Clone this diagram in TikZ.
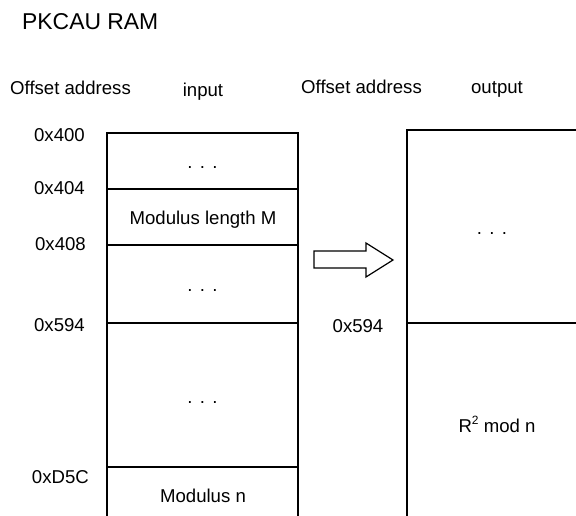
\documentclass[tikz,border=0pt]{standalone}
\usepackage{fontspec}
\setmainfont{Liberation Sans}
\begin{document}
\begin{tikzpicture}[x=1pt,y=-1pt,
  lbl/.style={inner sep=0pt,anchor=base,font=\fontsize{18.6}{22}\selectfont},
  lblw/.style={lbl,anchor=base west},
  addr/.style={lbl,anchor=base east},
  memline/.style={line width=1.6pt},
  blockarrow/.style={line width=1.2pt,line join=miter}]
\useasboundingbox (0,0) rectangle (576,516);
\fill[white] (0,0) rectangle (576,516);
% titles
\node[lblw,font=\fontsize{22.9}{27}\selectfont] (title) at (22,30) {PKCAU RAM};
\node[lblw] (offL) at (10,95) {Offset address};
\node[lbl] (inp) at (203,97) {input};
\node[lblw] (offR) at (301,94) {Offset address};
\node[lbl] (outp) at (497,94) {output};
% coordinates for left memory
\coordinate (LTL) at (107,133);
\coordinate (LTR) at (298,133);
\coordinate (LBL) at (107,516);
\coordinate (LBR) at (298,516);
\coordinate (l1a) at (107,189); \coordinate (l1b) at (298,189);
\coordinate (l2a) at (107,245); \coordinate (l2b) at (298,245);
\coordinate (l3a) at (107,323); \coordinate (l3b) at (298,323);
\coordinate (l4a) at (107,467); \coordinate (l4b) at (298,467);
\draw[memline] (LBL) -- (LTL) -- (LTR) -- (LBR);
\draw[memline] (l1a) -- (l1b);
\draw[memline] (l2a) -- (l2b);
\draw[memline] (l3a) -- (l3b);
\draw[memline] (l4a) -- (l4b);
% right memory
\coordinate (RBL) at (407,516);
\coordinate (RTL) at (407,130);
\coordinate (RTR) at (580,130);
\coordinate (r1a) at (407,323); \coordinate (r1b) at (580,323);
\draw[memline] (RBL) -- (RTL) -- (RTR);
\draw[memline] (r1a) -- (r1b);
% addresses
\node[addr] (a400) at (85,142) {0x400};
\node[addr] (a404) at (85,194.5) {0x404};
\node[addr] (a408) at (86,251) {0x408};
\node[addr] (a594) at (85,331) {0x594};
\node[addr] (ad5c) at (89,483) {0xD5C};
\node[lbl] (a594r) at (358,332) {0x594};
% contents
\newcommand{\mydots}{.\hspace{7.3pt}.\hspace{7.3pt}.}
\node[lbl] (d1) at (202.5,168) {\mydots};
\node[lbl] (modM) at (203,224) {Modulus length M};
\node[lbl] (d2) at (202.5,291) {\mydots};
\node[lbl] (d3) at (202.5,403) {\mydots};
\node[lbl] (modn) at (203,502) {Modulus n};
\node[lbl] (d4) at (492,234) {\mydots};
\node[lbl] (r2) at (497,432) {R\raisebox{0.42em}{\fontsize{12}{14}\selectfont 2} mod n};
% block arrow
\draw[blockarrow] (314,251) -- (366,251) -- (366,243) -- (393,260) -- (366,277) -- (366,268) -- (314,268) -- cycle;
\end{tikzpicture}
\end{document}
